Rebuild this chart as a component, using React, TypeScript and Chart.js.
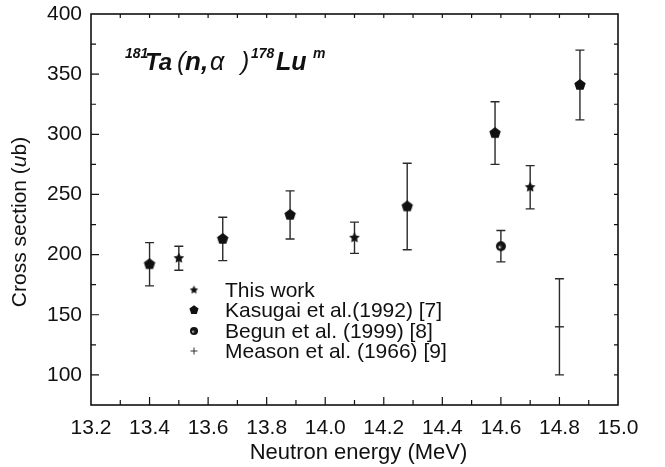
import React, { useEffect, useRef } from "react";
import { Chart, registerables } from "chart.js";

Chart.register(...registerables);

// ---------- data ----------
const thisWorkEnergy = [13.5, 14.1, 14.7];
const thisWorkValue = [197, 214, 256];
const thisWorkError = [10, 13, 18];

const kasugaiEnergy = [13.4, 13.65, 13.88, 14.28, 14.58, 14.87];
const kasugaiValue = [192, 213, 233, 240, 301, 341];
const kasugaiError = [18, 18, 20, 36, 26, 29];

const begunEnergy = [14.6];
const begunValue = [207];
const begunError = [13];

const measonEnergy = [14.8];
const measonValue = [140];
const measonError = [40];

const seriesLabels = [
  "This work",
  "Kasugai et al.(1992) [7]",
  "Begun et al. (1999) [8]",
  "Meason et al. (1966) [9]",
];

const xTickValues = [13.2, 13.4, 13.6, 13.8, 14.0, 14.2, 14.4, 14.6, 14.8, 15.0];
const yTickValues = [100, 150, 200, 250, 300, 350, 400];

const FONT = "'Liberation Sans', Arial, Helvetica, sans-serif";
const INK = "#111";
const W = 665;
const H = 467;

function makeMarker(kind: string, r: number): HTMLCanvasElement {
  const s = Math.ceil(2 * r + 2);
  const c = document.createElement("canvas");
  c.width = s;
  c.height = s;
  const g = c.getContext("2d") as CanvasRenderingContext2D;
  const cx = s / 2;
  const cy = s / 2;
  g.fillStyle = INK;
  g.beginPath();
  if (kind === "star") {
    for (let i = 0; i < 10; i++) {
      const a = -Math.PI / 2 + (i * Math.PI) / 5;
      const rr = i % 2 === 0 ? r : r * 0.5;
      g.lineTo(cx + rr * Math.cos(a), cy + rr * Math.sin(a));
    }
    g.closePath();
    g.fill();
  } else if (kind === "pentagon") {
    for (let i = 0; i < 5; i++) {
      const a = -Math.PI / 2 + (i * 2 * Math.PI) / 5;
      g.lineTo(cx + r * Math.cos(a), cy + r * Math.sin(a));
    }
    g.closePath();
    g.fill();
  } else if (kind === "sphere") {
    const grad = g.createRadialGradient(cx - r * 0.3, cy + r * 0.25, r * 0.05, cx, cy, r);
    grad.addColorStop(0, "#e0e0e0");
    grad.addColorStop(0.22, "#555");
    grad.addColorStop(0.45, "#151515");
    grad.addColorStop(1, "#111");
    g.fillStyle = grad;
    g.arc(cx, cy, r, 0, Math.PI * 2);
    g.fill();
  }
  return c;
}

function drawPlus(ctx: CanvasRenderingContext2D, x: number, y: number, r: number) {
  ctx.beginPath();
  ctx.moveTo(x - r, y);
  ctx.lineTo(x + r, y);
  ctx.moveTo(x, y - r);
  ctx.lineTo(x, y + r);
  ctx.stroke();
}

function makePlugin(legendImgs: HTMLCanvasElement[]) {
  return {
    id: "customDecor",
    beforeDatasetsDraw(chart: any) {
      const ctx: CanvasRenderingContext2D = chart.ctx;
      const xs = chart.scales.x;
      const ys = chart.scales.y;
      const area = chart.chartArea;
      ctx.save();
      // error bars
      ctx.strokeStyle = "#2a2a2a";
      ctx.lineWidth = 1.4;
      chart.data.datasets.forEach((ds: any, i: number) => {
        const meta = chart.getDatasetMeta(i);
        meta.data.forEach((el: any, j: number) => {
          const p = ds.data[j];
          const e = ds.errors[j];
          const x = el.x;
          const yt = ys.getPixelForValue(p.y + e);
          const yb = ys.getPixelForValue(p.y - e);
          ctx.beginPath();
          ctx.moveTo(x, yt);
          ctx.lineTo(x, yb);
          ctx.moveTo(x - 4.5, yt);
          ctx.lineTo(x + 4.5, yt);
          ctx.moveTo(x - 4.5, yb);
          ctx.lineTo(x + 4.5, yb);
          ctx.stroke();
        });
      });

      // frame
      ctx.strokeStyle = INK;
      ctx.lineWidth = 1.6;
      ctx.strokeRect(area.left, area.top, area.right - area.left, area.bottom - area.top);

      ctx.lineWidth = 1.2;
      ctx.beginPath();
      const xStep = (xTickValues[1] - xTickValues[0]) / 2;
      const nx = Math.round((xs.max - xs.min) / xStep);
      for (let k = 1; k < nx; k++) {
        const v = xs.min + k * xStep;
        const px = xs.getPixelForValue(v);
        const major = k % 2 === 0;
        ctx.moveTo(px, area.bottom);
        ctx.lineTo(px, area.bottom - (major ? 8 : 5));
        ctx.moveTo(px, area.top);
        ctx.lineTo(px, area.top + 4);
      }
      const yStep = (yTickValues[1] - yTickValues[0]) / 2;
      const ny = Math.round((ys.max - ys.min) / yStep);
      for (let k = 1; k < ny; k++) {
        const v = ys.min + k * yStep;
        const py = ys.getPixelForValue(v);
        const major = yTickValues.indexOf(v) >= 0;
        ctx.moveTo(area.left, py);
        ctx.lineTo(area.left + (major ? 8 : 5), py);
        ctx.moveTo(area.right, py);
        ctx.lineTo(area.right - 4, py);
      }
      ctx.stroke();

      // Meason "+" horizontal stroke over its error bar
      ctx.strokeStyle = "#2a2a2a";
      ctx.lineWidth = 1.4;
      const mMeta = chart.getDatasetMeta(3);
      mMeta.data.forEach((el: any) => {
        ctx.beginPath();
        ctx.moveTo(el.x - 4.5, el.y);
        ctx.lineTo(el.x + 4.5, el.y);
        ctx.stroke();
      });
      ctx.restore();
    },
    afterDraw(chart: any) {
      const ctx: CanvasRenderingContext2D = chart.ctx;
      const area = chart.chartArea;
      ctx.save();
      ctx.fillStyle = INK;

      // axis titles
      ctx.font = `22px ${FONT}`;
      ctx.textAlign = "center";
      ctx.textBaseline = "middle";
      ctx.fillText("Neutron energy (MeV)", (area.left + area.right) / 2 + 4, 453);

      ctx.save();
      ctx.translate(20, 222);
      ctx.rotate(-Math.PI / 2);
      ctx.textBaseline = "middle";
      const p1 = "Cross section (";
      const p2 = "u";
      const p3 = "b)";
      ctx.font = `21px ${FONT}`;
      const w1 = ctx.measureText(p1).width;
      const w3 = ctx.measureText(p3).width;
      ctx.font = `italic 21px ${FONT}`;
      const w2 = ctx.measureText(p2).width;
      let cx = -(w1 + w2 + w3) / 2;
      ctx.textAlign = "left";
      ctx.font = `21px ${FONT}`;
      ctx.fillText(p1, cx, 0);
      cx += w1;
      ctx.font = `italic 21px ${FONT}`;
      ctx.fillText(p2, cx, 0);
      cx += w2;
      ctx.font = `21px ${FONT}`;
      ctx.fillText(p3, cx, 0);
      ctx.restore();

      // reaction title
      ctx.textAlign = "left";
      ctx.textBaseline = "alphabetic";
      const base = 70;
      const sup = 58;
      const piece = (t: string, font: string, x: number, y: number) => {
        ctx.font = font;
        ctx.fillText(t, x, y);
      };
      piece("181", `bold italic 14px ${FONT}`, 125, sup);
      piece("Ta", `bold italic 24px ${FONT}`, 145, base);
      piece("(", `italic 25px ${FONT}`, 177, base);
      piece("n,", `bold italic 26px ${FONT}`, 185, base);
      piece("\u03b1", `italic 25px ${FONT}`, 210, base);
      piece(")", `italic 25px ${FONT}`, 241, base);
      piece("178", `bold italic 14px ${FONT}`, 251, sup);
      piece("Lu", `bold italic 25px ${FONT}`, 276, base);
      piece("m", `bold italic 14px ${FONT}`, 313, sup);

      // legend
      const mx = 194;
      const tx = 225;
      const rows = [290, 310, 331, 351];
      ctx.font = `21px ${FONT}`;
      ctx.textBaseline = "middle";
      seriesLabels.forEach((label, i) => {
        const y = rows[i];
        if (i < 3) {
          const im = legendImgs[i];
          ctx.drawImage(im, mx - im.width / 2, y - im.height / 2);
        } else {
          ctx.strokeStyle = "#333";
          ctx.lineWidth = 1;
          drawPlus(ctx, mx, y, 3.5);
        }
        ctx.fillStyle = INK;
        ctx.fillText(label, tx, y + 1);
      });
      ctx.restore();
    },
  };
}

export default function App() {
  const ref = useRef<HTMLCanvasElement | null>(null);

  useEffect(() => {
    if (!ref.current) return;
    const starImg = makeMarker("star", 5.6);
    const pentImg = makeMarker("pentagon", 6);
    const sphereImg = makeMarker("sphere", 5);
    const legendImgs = [makeMarker("star", 4.4), makeMarker("pentagon", 4.8), makeMarker("sphere", 4)];

    const toPts = (xs: number[], ys: number[]) => xs.map((x, i) => ({ x, y: ys[i] }));

    const chart = new Chart(ref.current, {
      type: "scatter",
      data: {
        datasets: [
          {
            label: seriesLabels[0],
            data: toPts(thisWorkEnergy, thisWorkValue),
            errors: thisWorkError,
            pointStyle: starImg,
            pointRadius: 5,
          } as any,
          {
            label: seriesLabels[1],
            data: toPts(kasugaiEnergy, kasugaiValue),
            errors: kasugaiError,
            pointStyle: pentImg,
            pointRadius: 6,
          } as any,
          {
            label: seriesLabels[2],
            data: toPts(begunEnergy, begunValue),
            errors: begunError,
            pointStyle: sphereImg,
            pointRadius: 5,
          } as any,
          {
            label: seriesLabels[3],
            data: toPts(measonEnergy, measonValue),
            errors: measonError,
            pointStyle: "cross",
            pointRadius: 0,
            borderColor: "#333",
          } as any,
        ],
      },
      options: {
        animation: false,
        responsive: false,
        layout: { padding: { left: 0, top: 14, right: 47, bottom: 0 } },
        plugins: {
          legend: { display: false },
          tooltip: { enabled: false },
          title: { display: false },
        },
        scales: {
          x: {
            type: "linear",
            min: 13.2,
            max: 15.0,
            grid: { display: false, drawTicks: false },
            border: { display: false },
            afterBuildTicks: (s: any) => {
              s.ticks = xTickValues.map((v) => ({ value: v }));
            },
            afterFit: (s: any) => {
              s.height = 62;
              s.paddingLeft = 0;
              s.paddingRight = 0;
            },
            ticks: {
              padding: 11,
              color: INK,
              autoSkip: false,
              maxRotation: 0,
              font: { family: FONT, size: 21 },
              callback: (v: any) => Number(v).toFixed(1),
            },
          },
          y: {
            type: "linear",
            min: 75,
            max: 400,
            grid: { display: false, drawTicks: false },
            border: { display: false },
            afterBuildTicks: (s: any) => {
              s.ticks = yTickValues.map((v) => ({ value: v }));
            },
            afterFit: (s: any) => {
              s.width = 91;
              s.paddingTop = 0;
              s.paddingBottom = 0;
            },
            ticks: {
              padding: 9,
              color: INK,
              autoSkip: false,
              font: { family: FONT, size: 21 },
              callback: (v: any) => String(v),
            },
          },
        },
      } as any,
      plugins: [makePlugin(legendImgs) as any],
    });

    return () => {
      chart.destroy();
    };
  }, []);

  return (
    <canvas
      ref={ref}
      width={W}
      height={H}
      style={{ position: "absolute", left: 0, top: 0, display: "block", width: `${W}px`, height: `${H}px` }}
    />
  );
}
